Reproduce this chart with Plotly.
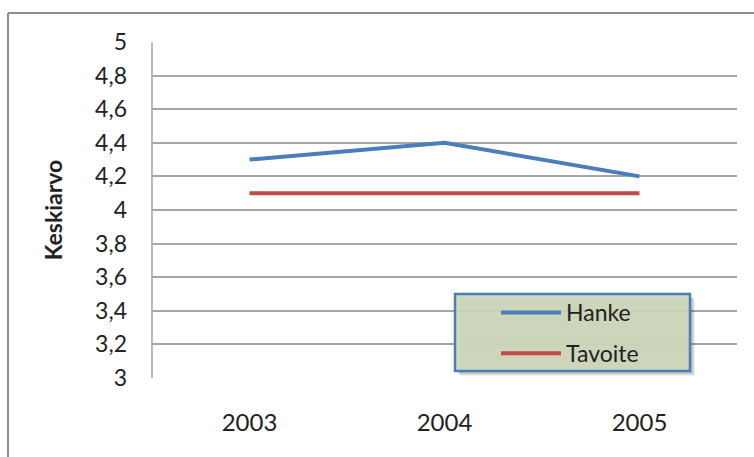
import plotly.graph_objects as go

# Survey averages by year
years = ["2003", "2004", "2005"]
hanke = [4.3, 4.4, 4.2]
tavoite = [4.1, 4.1, 4.1]

y_ticks = [3.0, 3.2, 3.4, 3.6, 3.8, 4.0, 4.2, 4.4, 4.6, 4.8, 5.0]
y_tick_text = [f"{v:g}".replace(".", ",") for v in y_ticks]

FONT = "Lato, Carlito, Calibri, sans-serif"
TEXT = "#222222"
GRID = "#a6a6a6"

fig = go.Figure()
fig.add_trace(go.Scatter(
    x=years, y=hanke, name="Hanke", mode="lines",
    line=dict(color="#4a7ebb", width=4), legendgroup="a",
))
fig.add_trace(go.Scatter(
    x=years, y=tavoite, name="Tavoite", mode="lines",
    line=dict(color="#be4b48", width=4), legendgroup="b",
))

W, H = 754, 457
L, R, T, B = 152, 17, 42, 79
pw, ph = W - L - R, H - T - B


def px_x(x):
    return (x - L) / pw


def px_y(y):
    return (H - B - y) / ph


shapes = [
    # outer chart frame (left and top edges)
    dict(type="line", xref="paper", yref="paper", x0=px_x(8), x1=px_x(8),
         y0=px_y(13), y1=px_y(470), line=dict(color="#8f8f8f", width=2)),
    dict(type="line", xref="paper", yref="paper", x0=px_x(8), x1=px_x(770),
         y0=px_y(13), y1=px_y(13), line=dict(color="#8f8f8f", width=2)),
    # plot-area left edge
    dict(type="line", xref="paper", yref="paper", x0=0, x1=0, y0=0, y1=1,
         line=dict(color=GRID, width=1.5)),
]
# legend box shadow
for i, a in enumerate([0.06, 0.08, 0.1]):
    d = 3 - i
    shapes.append(dict(type="rect", xref="paper", yref="paper", layer="above",
                       x0=px_x(455 + 2 + d), x1=px_x(690 + 2 + d),
                       y0=px_y(371 + 2 + d), y1=px_y(294 + 2 + d),
                       fillcolor=f"rgba(0,0,0,{a})", line=dict(width=0)))
# legend box
shapes.append(dict(type="rect", xref="paper", yref="paper", layer="above",
                   x0=px_x(455), x1=px_x(690), y0=px_y(371), y1=px_y(294),
                   fillcolor="rgba(205,214,186,0.93)",
                   line=dict(color="#4a7ebb", width=2.5)))

fig.update_layout(
    width=W, height=H,
    margin=dict(l=L, r=R, t=T, b=B),
    paper_bgcolor="white", plot_bgcolor="white",
    font=dict(family=FONT, color=TEXT, size=22),
    showlegend=True,
    legend=dict(
        x=px_x(496), y=px_y(291), xanchor="left", yanchor="top",
        bgcolor="rgba(0,0,0,0)", borderwidth=0,
        font=dict(size=23, color=TEXT, family=FONT),
        tracegroupgap=8, itemwidth=60,
    ),
    shapes=shapes,
    xaxis=dict(
        range=[-0.5, 2.5], showgrid=False, zeroline=False, showline=False,
        ticks="", ticklabelstandoff=28, tickfont=dict(size=24),
    ),
    yaxis=dict(
        range=[3, 5], tickvals=y_ticks, ticktext=y_tick_text,
        showgrid=True, gridcolor=GRID, gridwidth=1.5, zeroline=False,
        showline=False, ticks="", ticklabelstandoff=24,
        tickfont=dict(size=23),
        title=dict(text="<b>Keskiarvo</b>", font=dict(size=23), standoff=26),
    ),
)

fig.write_html("out.html")
